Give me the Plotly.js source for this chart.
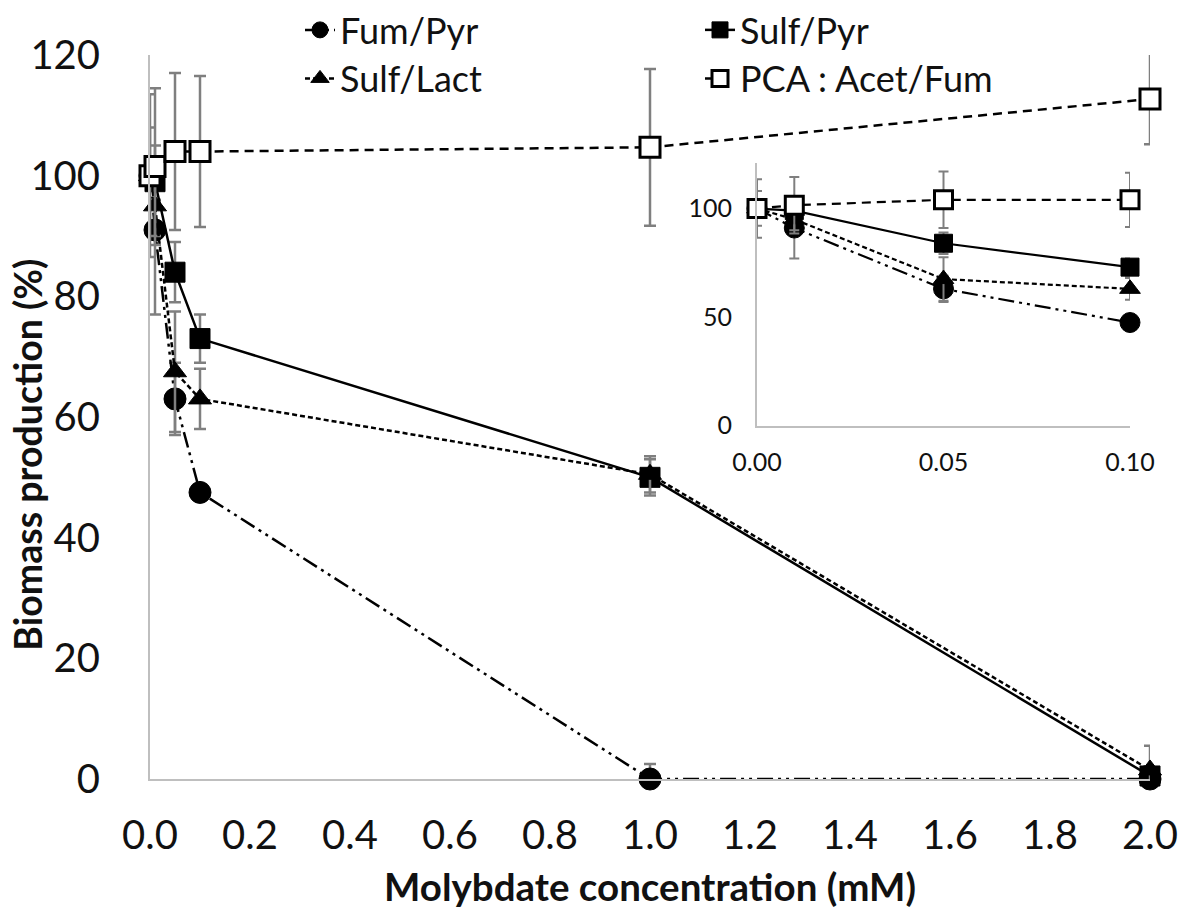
<!DOCTYPE html>
<html>
<head>
<meta charset="utf-8">
<script src="https://cdn.plot.ly/plotly-3.0.1.min.js"></script>
<style>html,body{margin:0;padding:0;background:#fff;}#chart{width:1187px;height:916px;}</style>
</head>
<body>
<div id="chart"></div>
<script>
// ---- data ----
const molybdate = [0, 0.01, 0.05, 0.1, 1.0, 2.0];

const fumPyr      = [100, 91, 63, 47.5, 0, 0];
const fumPyrErr   = [8, 14, 6, 1, 2.5, 1];

const sulfPyr     = [100, 99, 84, 73, 50, 0.5];
const sulfPyrErr  = [0, 3, 5, 4, 3, 1];

const sulfLact    = [100, 95, 67.5, 63, 50.5, 1.5];
const sulfLactErr = [0, 5, 10, 5, 3, 4];

const pcaAcetFum      = [100, 101.5, 104, 104, 104.7, 112.7];
const pcaAcetFumErr   = [13.5, 13, 13, 12.5, 13, 12.5];
const pcaAcetFumErrLo = [13.5, 13, 13, 12.5, 13, 7.5];

const seriesNames = ["Fum/Pyr", "Sulf/Pyr", "Sulf/Lact", "PCA : Acet/Fum"];
const xTickVals = [0, 0.2, 0.4, 0.6, 0.8, 1.0, 1.2, 1.4, 1.6, 1.8, 2.0];
const xTickLabels = ["0.0","0.2","0.4","0.6","0.8","1.0","1.2","1.4","1.6","1.8","2.0"];
const insetXTicks = [0, 0.05, 0.1];
const insetXTickLabels = ["0.00", "0.05", "0.10"];
const insetYTicks = [0, 50, 100];

// ---- styles ----
const FONT = "Lato, 'Open Sans', 'DejaVu Sans', sans-serif";
const ERRC = "#7f7f7f";
const AXC = "#bfbfbf";

const series = [
  {name: seriesNames[0], y: fumPyr, e: fumPyrErr, em: fumPyrErr,
   marker: {symbol: "circle", size: 22, color: "#000", line: {color: "#000", width: 1}},
   line: {color: "#000", width: 2.5, dash: "16px,5px,3px,5px,3px,5px"}, legend: "legend"},
  {name: seriesNames[1], y: sulfPyr, e: sulfPyrErr, em: sulfPyrErr,
   marker: {symbol: "square", size: 20, color: "#000", line: {color: "#000", width: 1}},
   line: {color: "#000", width: 2.5}, legend: "legend2"},
  {name: seriesNames[2], y: sulfLact, e: sulfLactErr, em: sulfLactErr,
   marker: {symbol: "triangle-up", size: 20, color: "#000", line: {color: "#000", width: 1}},
   line: {color: "#000", width: 2.5, dash: "5px,3px"}, legend: "legend3"},
  {name: seriesNames[3], y: pcaAcetFum, e: pcaAcetFumErr, em: pcaAcetFumErrLo,
   marker: {symbol: "square", size: 20, color: "#fff", line: {color: "#000", width: 3}},
   line: {color: "#000", width: 2.5, dash: "9px,6px"}, legend: "legend4"}
];

const traces = [];
// main panel
series.forEach(s => {
  traces.push({
    type: "scatter", mode: "lines+markers", name: s.name,
    x: molybdate, y: s.y, xaxis: "x", yaxis: "y",
    marker: s.marker, line: s.line, cliponaxis: false, legend: s.legend,
    error_y: {type: "data", symmetric: false, array: s.e, arrayminus: s.em,
              color: ERRC, thickness: 2.5, width: 6}
  });
});
// inset panel (first four concentrations)
const nIn = 4;
series.forEach(s => {
  traces.push({
    type: "scatter", mode: "lines+markers", name: s.name, showlegend: false,
    x: molybdate.slice(0, nIn), y: s.y.slice(0, nIn), xaxis: "x2", yaxis: "y2",
    marker: Object.assign({}, s.marker, {size: s.marker.size - 2}),
    line: Object.assign({}, s.line, {width: 2.2}), cliponaxis: false,
    error_y: {type: "data", symmetric: false, array: s.e.slice(0, nIn), arrayminus: s.em.slice(0, nIn),
              color: ERRC, thickness: 2, width: 5}
  });
});

const legendBase = {orientation: "v", bgcolor: "rgba(0,0,0,0)", borderwidth: 0,
                    font: {family: FONT, size: 36, color: "#111"},
                    xanchor: "left", yanchor: "top", itemclick: false};

const layout = {
  width: 1187, height: 916,
  margin: {l: 150, r: 37, t: 55, b: 137, autoexpand: false},
  paper_bgcolor: "#fff", plot_bgcolor: "rgba(0,0,0,0)",
  font: {family: FONT, color: "#111"},
  xaxis: {
    domain: [0, 1], range: [0, 2], tickvals: xTickVals,
    ticktext: xTickLabels, showgrid: false, zeroline: false,
    showline: true, linecolor: AXC, linewidth: 2, ticks: "",
    ticklabelstandoff: 20, tickfont: {family: FONT, size: 40, color: "#111"}
  },
  yaxis: {
    domain: [0, 1], range: [0, 120], dtick: 20, showgrid: false, zeroline: false,
    showline: true, linecolor: AXC, linewidth: 2, ticks: "",
    ticklabelstandoff: 40, tickfont: {family: FONT, size: 40, color: "#111"}
  },
  xaxis2: {
    domain: [0.607, 0.980], range: [0, 0.1], anchor: "y2",
    tickvals: insetXTicks, ticktext: insetXTickLabels,
    showgrid: false, zeroline: false, showline: true, linecolor: AXC, linewidth: 2, ticks: "",
    ticklabelstandoff: 13, tickfont: {family: FONT, size: 25, color: "#111"}
  },
  yaxis2: {
    domain: [0.488, 0.851], range: [0, 121], anchor: "x2", tickvals: insetYTicks,
    showgrid: false, zeroline: false, showline: true, linecolor: AXC, linewidth: 2, ticks: "",
    ticklabelstandoff: 18, tickfont: {family: FONT, size: 25, color: "#111"}
  },
  legend:  Object.assign({}, legendBase, {x: 0.150, y: 1.076}),
  legend2: Object.assign({}, legendBase, {x: 0.550, y: 1.076}),
  legend3: Object.assign({}, legendBase, {x: 0.150, y: 1.009}),
  legend4: Object.assign({}, legendBase, {x: 0.550, y: 1.009}),
  annotations: [
    {text: "<b>Molybdate concentration (mM)</b>", xref: "paper", yref: "paper",
     x: 0.5, y: -0.148, xanchor: "center", yanchor: "middle", showarrow: false,
     font: {family: FONT, size: 38.5, color: "#111"}},
    {text: "<b>Biomass production (%)</b>", xref: "paper", yref: "paper",
     x: -0.122, y: 0.448, xanchor: "center", yanchor: "middle", showarrow: false, textangle: -90,
     font: {family: FONT, size: 37.5, color: "#111"}}
  ],
  showlegend: true
};

Plotly.newPlot("chart", traces, layout, {displayModeBar: false, staticPlot: true});
</script>
</body>
</html>
